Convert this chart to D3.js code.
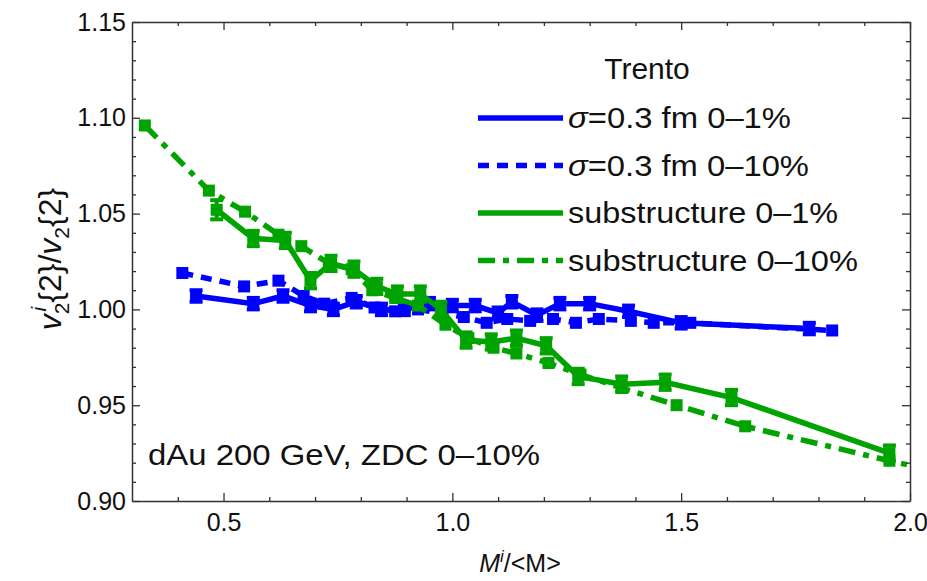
<!DOCTYPE html>
<html>
<head>
<meta charset="utf-8">
<script src="https://cdn.jsdelivr.net/npm/d3@7"></script>
<style>
  body { margin: 0; background: #fff; }
  text { font-family: "Liberation Sans", Arial, Helvetica, sans-serif; fill: #111; }
  .axis path, .axis line { stroke: #333; }
</style>
</head>
<body>
<div id="chart"></div>
<script>
// sigma=0.3 fm, 0-1%
var blueSolidX = [0.44, 0.565, 0.63, 0.69, 0.74, 0.79, 0.845, 0.895, 0.95, 1.00, 1.05, 1.10, 1.13, 1.185, 1.235, 1.30, 1.385, 1.50, 1.78];
var blueSolidY = [1.007, 1.003, 1.007, 1.002, 1.000, 1.004, 1.000, 1.000, 1.003, 1.002, 1.002, 0.998, 1.004, 0.997, 1.003, 1.003, 0.999, 0.993, 0.990];
var blueSolidE = [0.003, 0.003, 0.003, 0.003, 0.003, 0.003, 0.003, 0.003, 0.003, 0.003, 0.003, 0.003, 0.003, 0.003, 0.003, 0.003, 0.003, 0.003, 0.003];
// sigma=0.3 fm, 0-10%
var blueDotX = [0.41, 0.545, 0.62, 0.675, 0.72, 0.78, 0.83, 0.875, 0.925, 0.975, 1.025, 1.075, 1.12, 1.17, 1.22, 1.27, 1.32, 1.39, 1.44, 1.52, 1.83];
var blueDotY = [1.019, 1.012, 1.015, 1.007, 1.003, 1.006, 1.001, 0.999, 1.000, 0.998, 0.996, 0.993, 0.995, 0.994, 0.995, 0.993, 0.995, 0.994, 0.993, 0.993, 0.989];
// substructure 0-1%
var greenSolidX = [0.485, 0.565, 0.635, 0.69, 0.735, 0.785, 0.835, 0.88, 0.93, 0.975, 1.03, 1.085, 1.14, 1.205, 1.275, 1.37, 1.465, 1.61, 1.955];
var greenSolidY = [1.052, 1.037, 1.036, 1.015, 1.024, 1.021, 1.012, 1.008, 1.008, 1.000, 0.984, 0.983, 0.985, 0.981, 0.965, 0.961, 0.962, 0.954, 0.925];
var greenSolidE = [0.005, 0.004, 0.004, 0.004, 0.004, 0.004, 0.004, 0.004, 0.004, 0.004, 0.004, 0.004, 0.004, 0.004, 0.004, 0.004, 0.004, 0.004, 0.004];
// substructure 0-10%
var greenDashX = [0.328, 0.468, 0.547, 0.62, 0.67, 0.73, 0.78, 0.825, 0.875, 0.925, 0.985, 1.035, 1.09, 1.14, 1.21, 1.28, 1.37, 1.49, 1.64, 1.955, 2.05];
var greenDashY = [1.096, 1.062, 1.051, 1.039, 1.033, 1.024, 1.021, 1.010, 1.006, 1.002, 0.992, 0.985, 0.980, 0.977, 0.972, 0.966, 0.959, 0.950, 0.939, 0.921, 0.916];

var xMajor = [0.5, 1.0, 1.5, 2.0];
var yMajor = [0.90, 0.95, 1.00, 1.05, 1.10, 1.15];
var legendLabels = ["σ=0.3 fm 0–1%", "σ=0.3 fm 0–10%", "substructure 0–1%", "substructure 0–10%"];

var blue = "#0000ff", green = "#00a300";
var width = 927, height = 581;
var x = d3.scaleLinear().domain([0.3, 2.0]).range([132, 910]);
var y = d3.scaleLinear().domain([0.90, 1.15]).range([501, 22]);

var svg = d3.select("#chart").append("svg")
    .attr("width", width)
    .attr("height", height);

svg.append("clipPath").attr("id", "plotclip")
  .append("rect")
    .attr("x", 132).attr("y", 22)
    .attr("width", 778).attr("height", 479);

var zip = (xs, ys, es) => xs.map((v, i) => ({x: v, y: ys[i], e: es ? es[i] : 0}));

var series = [
  {data: zip(blueSolidX, blueSolidY, blueSolidE), color: blue, dash: null, err: true},
  {data: zip(blueDotX, blueDotY), color: blue, dash: "11,8", err: false},
  {data: zip(greenSolidX, greenSolidY, greenSolidE), color: green, dash: null, err: true},
  {data: zip(greenDashX, greenDashY), color: green, dash: "17,8,6,8", err: false}
];

var line = d3.line().x(d => x(d.x)).y(d => y(d.y));
var plot = svg.append("g").attr("clip-path", "url(#plotclip)");

series.forEach(s => {
  var g = plot.append("g");
  g.append("path")
    .datum(s.data)
    .attr("d", line)
    .attr("fill", "none")
    .attr("stroke", s.color)
    .attr("stroke-width", 5.5)
    .attr("stroke-dasharray", s.dash);
  if (s.err) {
    var eb = g.selectAll(".eb").data(s.data).enter().append("g");
    eb.append("line")
      .attr("x1", d => x(d.x)).attr("x2", d => x(d.x))
      .attr("y1", d => y(d.y - d.e)).attr("y2", d => y(d.y + d.e))
      .attr("stroke", s.color).attr("stroke-width", 4);
    eb.append("line")
      .attr("x1", d => x(d.x) - 6.5).attr("x2", d => x(d.x) + 6.5)
      .attr("y1", d => y(d.y + d.e)).attr("y2", d => y(d.y + d.e))
      .attr("stroke", s.color).attr("stroke-width", 4);
    eb.append("line")
      .attr("x1", d => x(d.x) - 6.5).attr("x2", d => x(d.x) + 6.5)
      .attr("y1", d => y(d.y - d.e)).attr("y2", d => y(d.y - d.e))
      .attr("stroke", s.color).attr("stroke-width", 4);
  }
  g.selectAll("rect").data(s.data).enter().append("rect")
    .attr("x", d => x(d.x) - 6)
    .attr("y", d => y(d.y) - 6)
    .attr("width", 12).attr("height", 12)
    .attr("fill", s.color);
});

// axes: major + minor ticks pointing inward, on all four sides
var xMinor = d3.range(0.4, 2.0, 0.1).filter(v => xMajor.every(m => Math.abs(m - v) > 1e-6));
var yMinor = d3.range(0.91, 1.15, 0.01).filter(v => yMajor.every(m => Math.abs(m - v) > 1e-6));

function drawAxis(axisFn, scale, pos, major, minor, labels, fmt) {
  var g = svg.append("g").attr("class", "axis").attr("transform", pos);
  g.call(axisFn(scale).tickValues(major).tickSizeInner(-8).tickSizeOuter(0)
      .tickPadding(labels ? (axisFn === d3.axisLeft ? 6 : 12) : 0)
      .tickFormat(labels ? d3.format(fmt) : ""));
  g.select(".domain").attr("stroke-width", 1.5);
  g.selectAll(".tick line").attr("stroke-width", 1.3);
  g.selectAll("text").style("font-size", "25px").attr("fill", "#111");
  var gm = svg.append("g").attr("class", "axis").attr("transform", pos);
  gm.call(axisFn(scale).tickValues(minor).tickSizeInner(-4).tickSizeOuter(0).tickFormat(""));
  gm.select(".domain").remove();
  gm.selectAll(".tick line").attr("stroke-width", 1.3);
}
drawAxis(d3.axisBottom, x, "translate(0,501)", xMajor, xMinor, true, ".1f");
drawAxis(d3.axisTop, x, "translate(0,22)", xMajor, xMinor, false);
drawAxis(d3.axisLeft, y, "translate(132,0)", yMajor, yMinor, true, ".2f");
drawAxis(d3.axisRight, y, "translate(910,0)", yMajor, yMinor, false);

// axis titles
var xt = svg.append("text").attr("x", 520).attr("y", 572)
    .attr("text-anchor", "middle").style("font-size", "25px");
xt.append("tspan").text("M").style("font-style", "italic");
xt.append("tspan").text("i").style("font-style", "italic").style("font-size", "17px").attr("dy", -10);
xt.append("tspan").text("/<M>").attr("dy", 10);

var yt = svg.append("text")
    .attr("transform", "translate(61,259) rotate(-90)")
    .attr("text-anchor", "middle").style("font-size", "32px");
yt.append("tspan").text("v").style("font-style", "italic");
yt.append("tspan").text("2").style("font-size", "21px").attr("dy", 8);
yt.append("tspan").text("i").style("font-style", "italic").style("font-size", "21px").attr("dx", -9).attr("dy", -23);
yt.append("tspan").text("{2}/").attr("dx", 4).attr("dy", 15);
yt.append("tspan").text("v").style("font-style", "italic");
yt.append("tspan").text("2").style("font-size", "21px").attr("dy", 8);
yt.append("tspan").text("{2}").attr("dy", -8);

// annotation
svg.append("text").attr("x", 148).attr("y", 465)
    .style("font-size", "30px")
    .attr("textLength", 392).attr("lengthAdjust", "spacingAndGlyphs")
    .text("dAu 200 GeV, ZDC 0–10%");

// legend
svg.append("text").attr("x", 647).attr("y", 79)
    .attr("text-anchor", "middle").style("font-size", "30px")
    .text("Trento");
var legStyle = [
  {color: blue, dash: null, len: 223},
  {color: blue, dash: "11,8", len: 241},
  {color: green, dash: null, len: 270},
  {color: green, dash: "17,8,6,8", len: 290}
];
var leg = svg.selectAll(".leg").data(legendLabels).enter().append("g")
    .attr("transform", (d, i) => "translate(0," + (118 + i * 47.5) + ")");
leg.append("line")
    .attr("x1", 478).attr("x2", 563)
    .attr("stroke", (d, i) => legStyle[i].color)
    .attr("stroke-width", 5.5)
    .attr("stroke-dasharray", (d, i) => legStyle[i].dash);
leg.append("text")
    .attr("x", 568).attr("y", 10)
    .style("font-size", "29px")
    .attr("textLength", (d, i) => legStyle[i].len)
    .attr("lengthAdjust", "spacingAndGlyphs")
    .each(function(d) {
      var t = d3.select(this);
      if (d.charAt(0) === "σ") {
        t.append("tspan").text("σ").style("font-style", "italic");
        t.append("tspan").text(d.slice(1));
      } else {
        t.text(d);
      }
    });
</script>
</body>
</html>
